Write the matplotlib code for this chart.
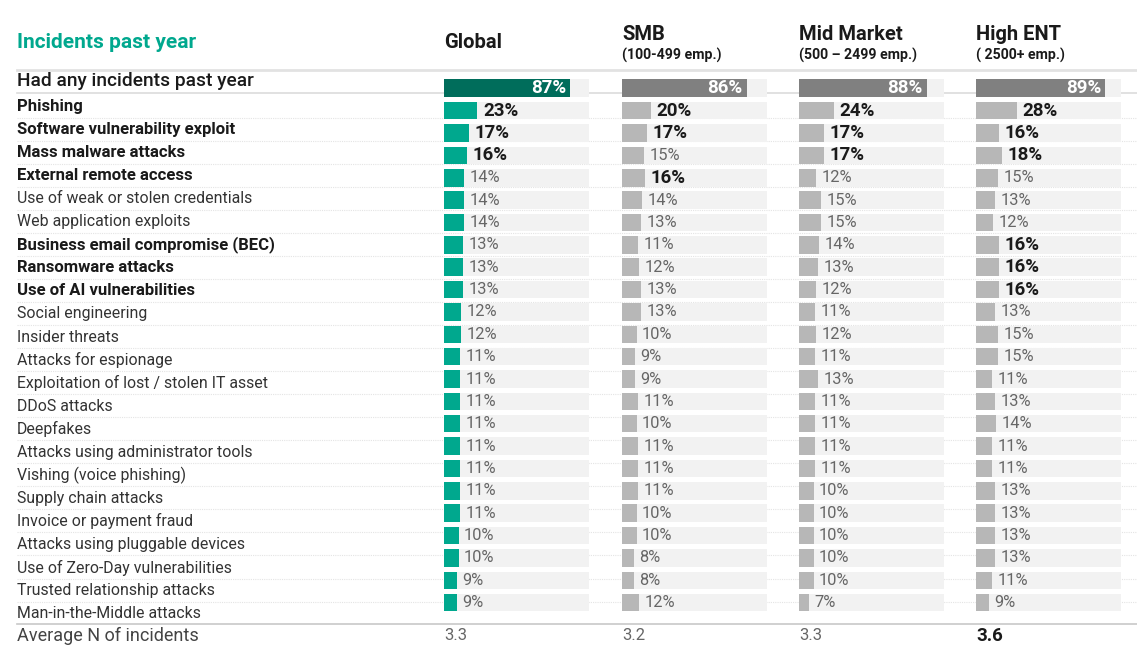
import numpy as np
import matplotlib.pyplot as plt

plt.rcParams['font.family'] = ['Roboto', 'DejaVu Sans']

# ---- data -----------------------------------------------------------------
title = 'Incidents past year'
columns = ['Global', 'SMB', 'Mid Market', 'High ENT']
subtitles = ['', '(100-499 emp.)', '(500 \u2013 2499 emp.)', '( 2500+ emp.)']

any_label = 'Had any incidents past year'
any_values = [87, 86, 88, 89]

categories = [
    'Phishing', 'Software vulnerability exploit', 'Mass malware attacks',
    'External remote access', 'Use of weak or stolen credentials',
    'Web application exploits', 'Business email compromise (BEC)',
    'Ransomware attacks', 'Use of AI vulnerabilities', 'Social engineering',
    'Insider threats', 'Attacks for espionage',
    'Exploitation of lost / stolen IT asset', 'DDoS attacks', 'Deepfakes',
    'Attacks using administrator tools', 'Vishing (voice phishing)',
    'Supply chain attacks', 'Invoice or payment fraud',
    'Attacks using pluggable devices', 'Use of Zero-Day vulnerabilities',
    'Trusted relationship attacks', 'Man-in-the-Middle attacks',
]
bold_categories = [0, 1, 2, 3, 6, 7, 8]

global_vals = [23, 17, 16, 14, 14, 14, 13, 13, 13, 12, 12, 11, 11, 11, 11,
               11, 11, 11, 11, 10, 10, 9, 9]
smb_vals = [20, 17, 15, 16, 14, 13, 11, 12, 13, 13, 10, 9, 9, 11, 10,
            11, 11, 11, 10, 10, 8, 8, 12]
mid_vals = [24, 17, 17, 12, 15, 15, 14, 13, 12, 11, 12, 11, 13, 11, 11,
            11, 11, 10, 10, 10, 10, 10, 7]
high_vals = [28, 16, 18, 15, 13, 12, 16, 16, 16, 13, 15, 15, 11, 13, 14,
             11, 11, 13, 13, 13, 13, 11, 9]
series = [global_vals, smb_vals, mid_vals, high_vals]

# highlighted (bold) values per column, as category indices
highlights = [[0, 1, 2], [0, 1, 3], [0, 1, 2], [0, 1, 2, 6, 7, 8]]

avg_label = 'Average N of incidents'
avg_values = ['3.3', '3.2', '3.3', '3.6']
avg_bold = [False, False, False, True]

# ---- layout ---------------------------------------------------------------
W, H = 1137, 660
TEAL = '#00a88e'
TEAL_DARK = '#006d5b'
GREY_DARK = '#808080'
GREY = '#b7b7b7'
TRACK = '#f2f2f2'
INK = '#1a1a1a'
SOFT = '#666666'

col_x = [444, 622, 799, 976]
track_w = 145
bar_h = 17.5
bar_y0, bar_step = 110.7, 22.36
lab_y0, lab_step = 106.5, 23.05
any_bar_y, any_lab_y = 88, 81

fig = plt.figure(figsize=(W / 100, H / 100), dpi=100)
ax = fig.add_axes([0, 0, 1, 1])
ax.set_xlim(0, W)
ax.set_ylim(H, 0)
ax.axis('off')

# title and headers
ax.text(17, 43, title, color=TEAL, fontsize=15, fontweight='bold',
        va='center', ha='left')
for i, (name, sub) in enumerate(zip(columns, subtitles)):
    if sub:
        ax.text(col_x[i], 35, name, fontsize=14.5, fontweight='bold',
                color=INK, va='center')
        ax.text(col_x[i], 55, sub, fontsize=10.2, fontweight='bold',
                color=INK, va='center')
    else:
        ax.text(col_x[i], 43, name, fontsize=14.5, fontweight='bold',
                color=INK, va='center')

# horizontal rules
ax.plot([17, W], [70, 70], color='#e2e2e2', lw=2, zorder=0)
ax.plot([17, W], [93, 93], color='#dcdcdc', lw=1.2, zorder=0)
ax.plot([17, W], [624, 624], color='#c8c8c8', lw=1.2, zorder=0)
n = len(categories)
sep_y = lab_y0 + 11 + lab_step * np.arange(n - 1)
for y in sep_y:
    ax.plot([17, W], [y, y], color='#e4e4e4', lw=0.8,
            linestyle=(0, (1, 1)), zorder=0)

# row labels
ax.text(17, any_lab_y, any_label, fontsize=13.8, fontweight='medium',
        color=INK, va='center')
for i, cat in enumerate(categories):
    bold = i in bold_categories
    ax.text(17, lab_y0 + lab_step * i, cat,
            fontsize=12 if bold else 11.4,
            fontweight='bold' if bold else 'normal',
            color=INK if bold else '#333333', va='center')
ax.text(17, 636, avg_label, fontsize=13, color='#444444', va='center')

# bar columns
bar_y = bar_y0 + bar_step * np.arange(n)
for c, vals in enumerate(series):
    cax = fig.add_axes([col_x[c] / W, 0, track_w / W, 1])
    cax.set_xlim(0, 100)
    cax.set_ylim(H, 0)
    cax.axis('off')
    main_col = TEAL if c == 0 else GREY
    any_col = TEAL_DARK if c == 0 else GREY_DARK

    cax.barh([any_bar_y], [100], height=bar_h, color=TRACK, lw=0)
    cax.barh([any_bar_y], [any_values[c]], height=bar_h, color=any_col, lw=0)
    cax.annotate(f'{any_values[c]}%', (any_values[c], any_bar_y),
                 xytext=(-3, 0), textcoords='offset points', ha='right',
                 va='center', color='white', fontsize=13.5,
                 fontweight='bold')

    cax.barh(bar_y, np.full(n, 100), height=bar_h, color=TRACK, lw=0)
    cax.barh(bar_y, vals, height=bar_h, color=main_col, lw=0)
    for i, v in enumerate(vals):
        hl = i in highlights[c]
        cax.annotate(f'{v}%', (v, bar_y[i]), xytext=(4, 0),
                     textcoords='offset points', ha='left', va='center',
                     annotation_clip=False,
                     fontsize=13.5 if hl else 11.8,
                     fontweight='bold' if hl else 'normal',
                     color=INK if hl else SOFT)

    ax.text(col_x[c], 636, avg_values[c],
            fontsize=13.5 if avg_bold[c] else 12,
            fontweight='bold' if avg_bold[c] else 'normal',
            color=INK if avg_bold[c] else SOFT, va='center')

fig.savefig('out.png', dpi=100)
